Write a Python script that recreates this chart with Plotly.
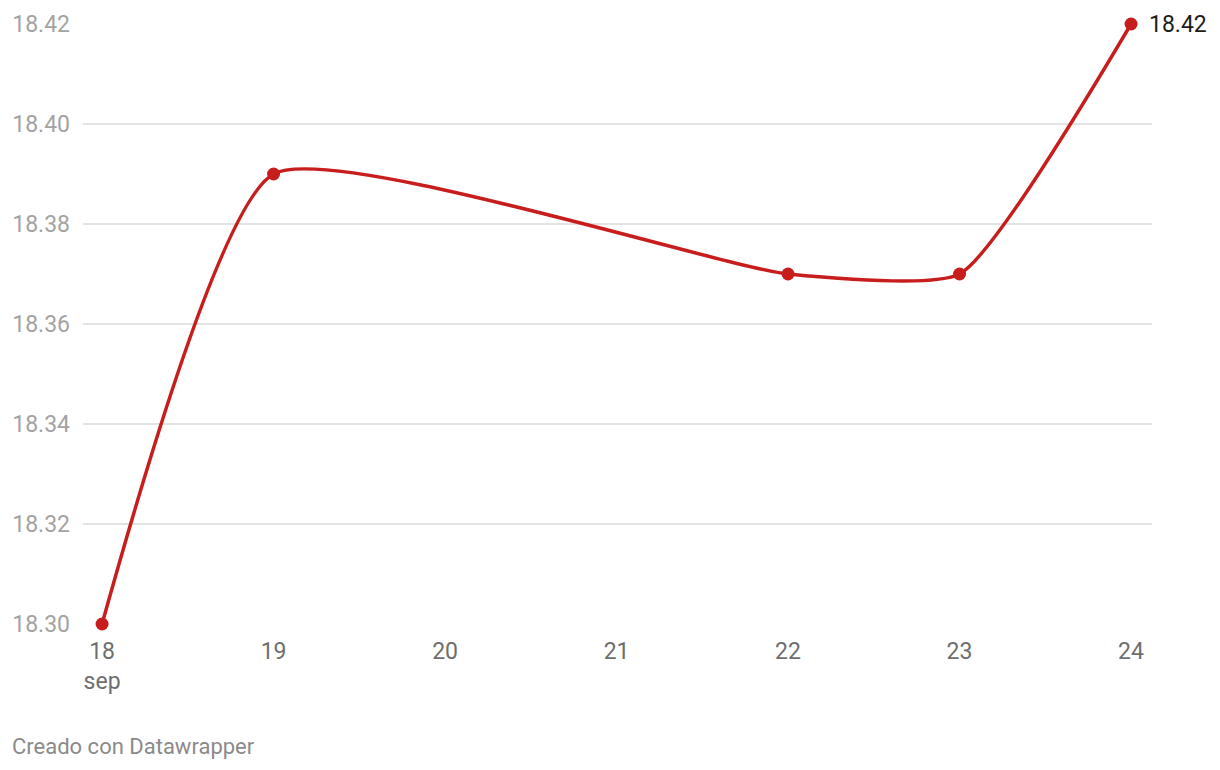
import plotly.graph_objects as go

dates = ["2023-09-18", "2023-09-19", "2023-09-22", "2023-09-23", "2023-09-24"]
values = [18.30, 18.39, 18.37, 18.37, 18.42]
tick_dates = ["2023-09-18", "2023-09-19", "2023-09-20", "2023-09-21",
              "2023-09-22", "2023-09-23", "2023-09-24"]
tick_labels = ["18<br>sep", "19", "20", "21", "22", "23", "24"]
y_ticks = [18.30, 18.32, 18.34, 18.36, 18.38, 18.40, 18.42]
y_labels = ["18.30", "18.32", "18.34", "18.36", "18.38", "18.40", "18.42"]

RED = "#c71e1d"
FONT = "Roboto"

# page body has an 8px margin; size the figure so it fits the window
W, H = 1212, 762
ML, MR, MT, MB = 75, 68, 16, 146
pw, ph = W - ML - MR, H - MT - MB

fig = go.Figure()
fig.add_trace(go.Scatter(
    x=dates, y=values, mode="lines+markers",
    line=dict(color=RED, width=3.5, shape="spline", smoothing=0.5),
    marker=dict(color=RED, size=13),
    cliponaxis=False, hoverinfo="skip",
))

fig.add_annotation(
    x=dates[-1], y=values[-1], text=f"{values[-1]:.2f}",
    xref="x", yref="y", showarrow=False, xanchor="left", yanchor="middle",
    xshift=16, font=dict(family=FONT, size=23, color="#1d1d1d"),
)

fig.add_annotation(
    x=(2 - ML) / pw, y=(H - 738 - MB) / ph, xref="paper", yref="paper",
    text="Creado con Datawrapper",
    showarrow=False, xanchor="left", yanchor="middle",
    font=dict(family=FONT, size=22, color="#8a8a8a"),
)

fig.update_layout(
    template="none",
    width=W, height=H,
    margin=dict(l=ML, r=MR, t=MT, b=MB, pad=0, autoexpand=False),
    paper_bgcolor="white", plot_bgcolor="white",
    showlegend=False,
    font=dict(family=FONT),
    xaxis=dict(
        type="date", automargin=False,
        range=["2023-09-17 21:20", "2023-09-24 02:56"],
        tickvals=tick_dates, ticktext=tick_labels,
        showgrid=False, zeroline=False, showline=False, ticks="",
        tickfont=dict(family=FONT, size=23, color="#6e6e6e"),
        ticklabelstandoff=11,
    ),
    yaxis=dict(
        automargin=False,
        range=[18.30, 18.42],
        tickvals=y_ticks, ticktext=y_labels,
        showgrid=True, gridcolor="#e3e3e3", gridwidth=1.5,
        zeroline=False, showline=False, ticks="",
        tickfont=dict(family=FONT, size=23, color="#a3a3a3"),
        ticklabelstandoff=12,
    ),
)

fig.write_html("out.html")
